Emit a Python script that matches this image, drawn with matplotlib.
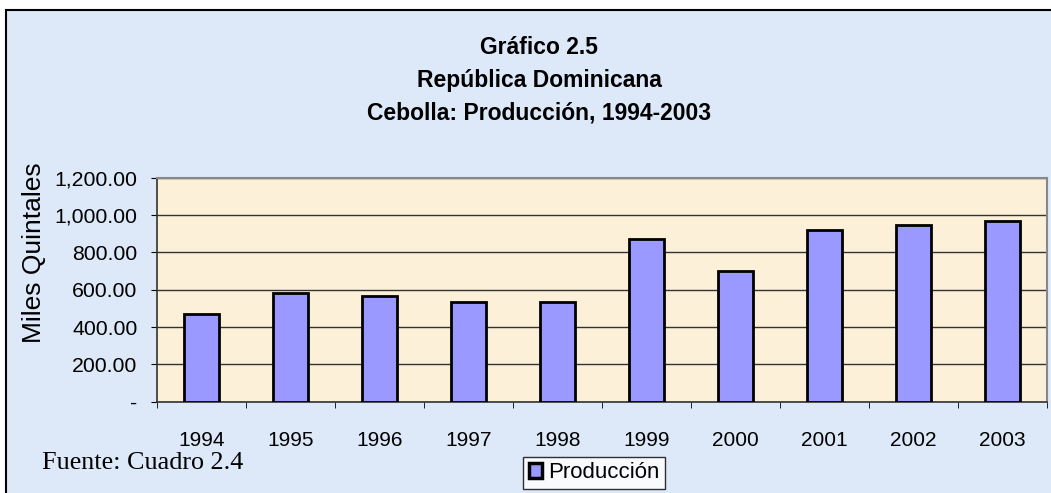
import matplotlib.pyplot as plt
from matplotlib.patches import Rectangle
from matplotlib.ticker import FuncFormatter
import numpy as np

plt.rcParams['font.family'] = ['Liberation Sans', 'DejaVu Sans']

# datos del grafico
years = ['1994', '1995', '1996', '1997', '1998', '1999', '2000', '2001', '2002', '2003']
produccion = [468, 581, 568, 533, 533, 874, 700, 919, 947, 969]
yticks = [0, 200, 400, 600, 800, 1000, 1200]

bg = '#dde9f8'
plotbg = '#fcf0d9'
barcolor = '#9999ff'


def fmt(v, pos):
    if v == 0:
        return '-'
    return '{:,.2f}'.format(v)


W, H = 1051, 493
fig = plt.figure(figsize=(W / 100, H / 100), dpi=100)
fig.patch.set_facecolor('white')
# marco exterior del grafico
fig.patches.append(Rectangle((6 / W, -0.01), 1.02, (H - 10) / H + 0.01,
                             transform=fig.transFigure, facecolor=bg,
                             edgecolor='black', linewidth=1.5, zorder=-5))

ax = fig.add_axes([157 / W, (H - 401.7) / H, (1047 - 157) / W, (401.7 - 177.8) / H])
ax.set_zorder(2)
ax.set_facecolor(plotbg)
x = np.arange(len(years))
ax.bar(x, produccion, width=0.4, color=barcolor, edgecolor='black', linewidth=2,
       label='Producción', zorder=3)
ax.set_xlim(-0.5, len(years) - 0.5)
ax.set_ylim(0, 1200)
ax.set_yticks(yticks)
ax.yaxis.set_major_formatter(FuncFormatter(fmt))
ax.yaxis.grid(True, color='#333333', linewidth=1, zorder=1)

ax.set_xticks(x)
ax.set_xticklabels(years)
ax.set_xticks(np.arange(-0.5, len(years), 1), minor=True)
ax.tick_params(axis='x', which='major', length=0, pad=21, labelsize=15)
ax.tick_params(axis='x', which='minor', length=4.5, direction='out', color='black')
ax.tick_params(axis='y', length=4, direction='out', labelsize=15.3, pad=10)

for s in ['top', 'right']:
    ax.spines[s].set_color('#888888')
    ax.spines[s].set_linewidth(1.5)
for s in ['left', 'bottom']:
    ax.spines[s].set_color('#333333')
    ax.spines[s].set_linewidth(1.2)

fig.text(34 / W, 1 - 253 / H, 'Miles Quintales', rotation=90, ha='center', va='center',
         fontsize=19)

fig.text(539 / W, 1 - 48 / H, 'Gráfico 2.5', ha='center', va='center',
         fontsize=16.5, fontweight='bold')
fig.text(539 / W, 1 - 80 / H, 'República Dominicana', ha='center', va='center',
         fontsize=16.5, fontweight='bold')
fig.text(539 / W, 1 - 113 / H, 'Cebolla: Producción, 1994-2003', ha='center', va='center',
         fontsize=16.5, fontweight='bold')

fig.text(42 / W, 1 - 463 / H, 'Fuente: Cuadro 2.4', ha='left', va='center',
         fontsize=18.8, family='Liberation Serif')

leg = ax.legend(loc='center', bbox_to_anchor=(594 / W, 1 - 473 / H),
                bbox_transform=fig.transFigure, fontsize=16, frameon=True,
                fancybox=False, handlelength=0.62, handleheight=0.62, handletextpad=0.25,
                borderpad=0.25, borderaxespad=0)
leg.get_frame().set_edgecolor('black')
leg.get_frame().set_facecolor('white')
leg.get_frame().set_linewidth(1)
for h in leg.legend_handles:
    h.set_linewidth(2.5)

plt.savefig('out.png', dpi=100)
